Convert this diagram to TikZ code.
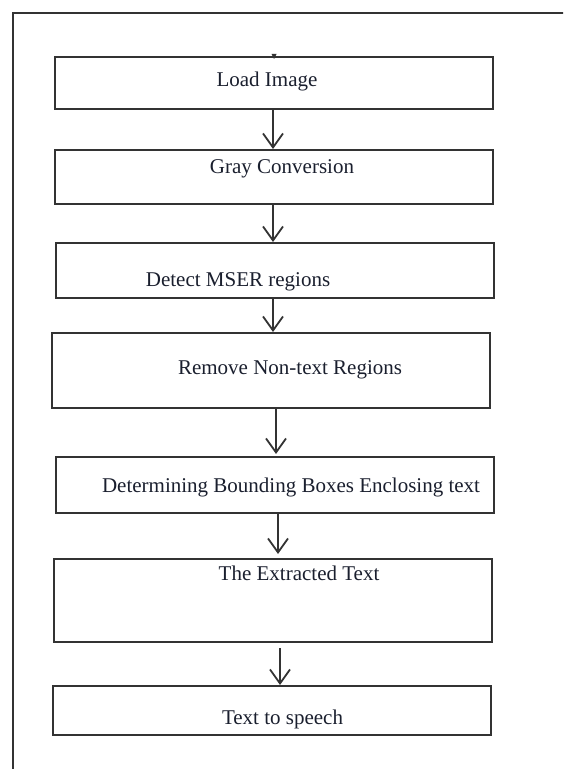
\documentclass[tikz,border=0pt]{standalone}
\usepackage{fontspec}
\setmainfont{Liberation Serif}
\usetikzlibrary{arrows.meta,calc}
\definecolor{boxline}{HTML}{333333}
\definecolor{labeltext}{HTML}{1A1F2E}

\tikzset{
  stagebox/.style={draw=boxline, line width=1pt, minimum width=219pt, inner sep=0pt},
  stagelabel/.style={anchor=base, font=\fontsize{10.5}{12}\selectfont, text=labeltext, inner sep=0pt},
  flow/.style={draw=boxline, line width=0.8pt, -{Straight Barb[length=7pt,width=10pt,line width=0.9pt]}}
}

\begin{document}
\begin{tikzpicture}[x=0.5pt, y=-0.5pt]
  \useasboundingbox (0,0) rectangle (563,769);
  \clip (0,0) rectangle (563,769);

  % Outer frame
  \draw[boxline, line width=1pt] (13,780) -- (13,13) -- (580,13);

  % Boxes
  \node[stagebox, minimum height=26pt]   (load)    at (274, 83)    {};
  \node[stagebox, minimum height=27pt]   (gray)    at (273.5, 177) {};
  \node[stagebox, minimum height=27.5pt] (mser)    at (274.5, 270.5) {};
  \node[stagebox, minimum height=37.5pt] (nontext) at (270.5, 370.5) {};
  \node[stagebox, minimum height=28pt]   (bbox)    at (274.5, 485) {};
  \node[stagebox, minimum height=41.5pt] (extract) at (273, 600.5) {};
  \node[stagebox, minimum height=24.5pt] (speech)  at (271.5, 710.5) {};

  % Labels
  \node[stagelabel] (loadtxt)    at (267, 87)    {Load Image};
  \node[stagelabel] (graytxt)    at (282, 174)   {Gray Conversion};
  \node[stagelabel] (msertxt)    at (238, 287)   {Detect MSER regions};
  \node[stagelabel] (nontexttxt) at (290, 374)   {Remove Non-text Regions};
  \node[stagelabel] (bboxtxt)    at (291, 492)   {Determining Bounding Boxes Enclosing text};
  \node[stagelabel] (extracttxt) at (299, 580)   {The Extracted Text};
  \node[stagelabel] (speechtxt)  at (282.5, 724) {Text to speech};

  % Entry mark
  \fill[boxline] ($(load.north)+(-2.5,-2)$) -- ($(load.north)+(2.5,-2)$) -- ($(load.north)+(0,3)$) -- cycle;

  % Arrows
  \draw[flow] ($(load.south)+(-1,0)$) -- ($(load.south |- gray.north)+(-1,0)$);
  \draw[flow] ($(gray.south)+(-0.5,0)$) -- ($(gray.south |- mser.north)+(-0.5,0)$);
  \draw[flow] ($(mser.south)+(-1.5,0)$) -- ($(mser.south |- nontext.north)+(-1.5,0)$);
  \draw[flow] ($(nontext.south)+(5.5,0)$) -- ($(nontext.south |- bbox.north)+(5.5,-2)$);
  \draw[flow] ($(bbox.south)+(3.5,0)$) -- ($(bbox.south |- extract.north)+(3.5,-4)$);
  \draw[flow] ($(extract.south)+(7,5)$) -- ($(extract.south |- speech.north)+(7,0)$);
\end{tikzpicture}
\end{document}
